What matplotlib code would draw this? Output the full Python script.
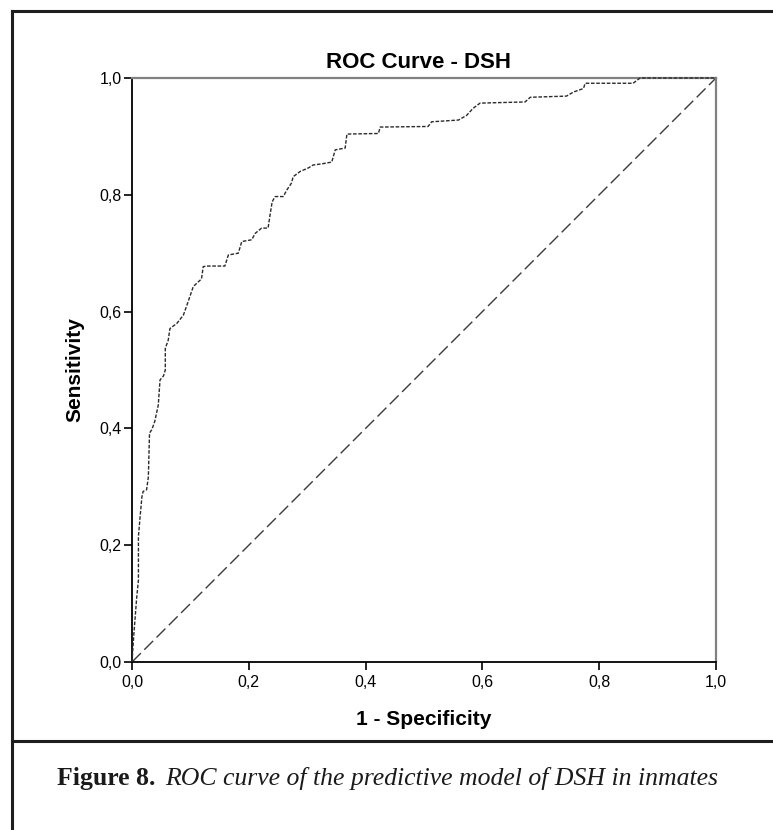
import matplotlib
matplotlib.use('Agg')
import matplotlib.pyplot as plt
from matplotlib.lines import Line2D

# ROC curve points (1 - specificity, sensitivity)
fpr = [0.000, 0.003, 0.008, 0.011, 0.011, 0.014, 0.017, 0.019, 0.025, 0.028,
       0.030, 0.034, 0.039, 0.045, 0.048, 0.054, 0.057, 0.057, 0.062, 0.065,
       0.077, 0.088, 0.094, 0.105, 0.119, 0.122, 0.128, 0.159, 0.165, 0.182,
       0.188, 0.205, 0.211, 0.222, 0.233, 0.236, 0.240, 0.245, 0.259, 0.265,
       0.273, 0.276, 0.288, 0.302, 0.310, 0.325, 0.342, 0.348, 0.365, 0.368,
       0.422, 0.425, 0.507, 0.513, 0.559, 0.573, 0.584, 0.596, 0.673, 0.682,
       0.744, 0.756, 0.773, 0.776, 0.858, 0.870, 1.000]
tpr = [0.000, 0.045, 0.110, 0.140, 0.215, 0.250, 0.283, 0.292, 0.295, 0.317,
       0.392, 0.398, 0.412, 0.440, 0.483, 0.490, 0.500, 0.537, 0.551, 0.571,
       0.580, 0.594, 0.611, 0.643, 0.656, 0.677, 0.678, 0.678, 0.697, 0.700,
       0.720, 0.723, 0.734, 0.743, 0.743, 0.763, 0.788, 0.797, 0.797, 0.808,
       0.820, 0.831, 0.840, 0.846, 0.851, 0.853, 0.856, 0.877, 0.880, 0.904,
       0.905, 0.916, 0.917, 0.925, 0.928, 0.936, 0.948, 0.957, 0.959, 0.967,
       0.969, 0.976, 0.982, 0.991, 0.991, 1.000, 1.000]

# reference (chance) line
ref_x = [0.0, 1.0]
ref_y = [0.0, 1.0]

ticks = [0.0, 0.2, 0.4, 0.6, 0.8, 1.0]
tick_labels = ['0,0', '0,2', '0,4', '0,6', '0,8', '1,0']

title = 'ROC Curve - DSH'
xlabel = '1 - Specificity'
ylabel = 'Sensitivity'
caption_bold = 'Figure 8.'
caption_italic = 'ROC curve of the predictive model of DSH in inmates'

plt.rcParams['font.family'] = ['Liberation Sans', 'DejaVu Sans']

W, H = 773, 830
fig = plt.figure(figsize=(W / 100, H / 100), dpi=100)
fig.patch.set_facecolor('white')

# axes placed in pixel coordinates of the reference
ax = fig.add_axes([132 / W, 1 - 662 / H, 584 / W, 584 / H])
ax.set_xlim(0, 1)
ax.set_ylim(0, 1)

ax.plot(ref_x, ref_y, color='#3a3a3a', lw=1.0, dashes=(9, 3.5), clip_on=False, zorder=2)
ax.plot(fpr, tpr, color='#2a2a2a', lw=1.0, dashes=(2.6, 1.2), clip_on=False, zorder=3)

for side in ['left', 'bottom']:
    ax.spines[side].set_color('black')
    ax.spines[side].set_linewidth(1.3)
for side in ['top', 'right']:
    ax.spines[side].set_color('#808080')
    ax.spines[side].set_linewidth(1.6)

ax.set_xticks(ticks)
ax.set_xticklabels(tick_labels)
ax.set_yticks(ticks)
ax.set_yticklabels(tick_labels)
ax.tick_params(direction='out', length=5.5, width=1.2, labelsize=11.5,
               colors='black', pad=2)
ax.tick_params(axis='x', pad=4)

fig.text(419 / W, 1 - 62 / H, title, ha='center', va='center',
         fontsize=16, fontweight='bold')
fig.text(424 / W, 1 - 719 / H, xlabel, ha='center', va='center',
         fontsize=15, fontweight='bold')
fig.text(75 / W, 1 - 370 / H, ylabel, ha='center', va='center',
         fontsize=15, fontweight='bold', rotation=90)

# outer frame and separator line of the figure box
frame = dict(color='#1e1e1e', lw=2.2, transform=fig.transFigure)
fig.add_artist(Line2D([12 / W, 12 / W], [0, 1 - 11 / H], **frame))
fig.add_artist(Line2D([12 / W, 1], [1 - 11 / H, 1 - 11 / H], **frame))
fig.add_artist(Line2D([12 / W, 1], [1 - 741 / H, 1 - 741 / H], **frame))

# caption: bold label followed by italic text
cap_y = 1 - 778 / H
t1 = fig.text(57 / W, cap_y, caption_bold, ha='left', va='center',
              fontsize=18.5, fontweight='bold', family='Liberation Serif',
              color='#1a1a1a')
fig.canvas.draw()
bb = t1.get_window_extent()
fig.text((bb.x1 + 10) / W, cap_y, caption_italic, ha='left', va='center',
         fontsize=18.5, style='italic', family='Liberation Serif', color='#1a1a1a')

fig.savefig('out.png', dpi=100)
